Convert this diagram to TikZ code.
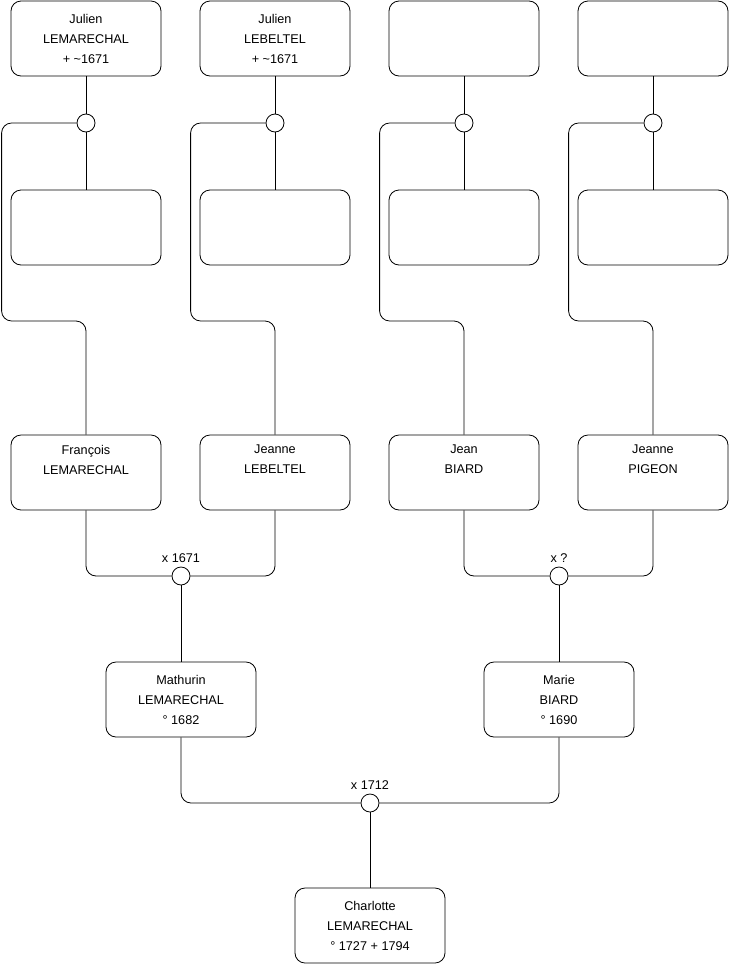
\documentclass[tikz,border=0pt]{standalone}
\usepackage{fontspec}
\setmainfont{Liberation Sans}
\usepackage{tikz}
\usetikzlibrary{positioning}

\tikzset{
  person/.style={draw,rounded corners=7.5pt,minimum width=112.5pt,minimum height=56.25pt,
    align=center,inner sep=0pt,font=\fontsize{9.5}{15}\selectfont},
  union/.style={draw,circle,fill=white,minimum size=13.5pt,inner sep=0pt},
  link/.style={line width=0.6pt,rounded corners=7.5pt},
  year/.style={font=\fontsize{9.5}{11}\selectfont,inner sep=1pt}
}

\begin{document}
\begin{tikzpicture}[x=0.75pt,y=-0.75pt,line width=0.6pt]
  \useasboundingbox (0,0) rectangle (740,975);
  % top row
  \node[person] (jlem) at (86,38.5) {Julien\\LEMARECHAL\\+ \textasciitilde1671};
  \node[person] (jleb) at (275,38.5) {Julien\\LEBELTEL\\+ \textasciitilde1671};
  \node[person] (top3) at (464,38.5) {};
  \node[person] (top4) at (653,38.5) {};
  \node[union] (u1) at (86,123) {};
  \node[union] (u2) at (275,123) {};
  \node[union] (u3) at (464,123) {};
  \node[union] (u4) at (653,123) {};
  \node[person] (mid1) at (86,227.5) {};
  \node[person] (mid2) at (275,227.5) {};
  \node[person] (mid3) at (464,227.5) {};
  \node[person] (mid4) at (653,227.5) {};
  % parents
  \node[person] (fran) at (86,472.5) {François\\LEMARECHAL\\\strut};
  \node[person] (jleb2) at (275,472.5) {Jeanne\\LEBELTEL\\\strut};
  \node[person] (jean) at (464,472.5) {Jean\\BIARD\\\strut};
  \node[person] (jpig) at (653,472.5) {Jeanne\\PIGEON\\\strut};
  \node[union] (m1) at (181,576) {};
  \node[union] (m2) at (559,576) {};
  \node[year,above=2pt of m1] {x 1671};
  \node[year,above=2pt of m2] {x ?};
  \node[person] (math) at (181,699.5) {Mathurin\\LEMARECHAL\\° 1682};
  \node[person] (marie) at (559,699.5) {Marie\\BIARD\\° 1690};
  \node[union] (m3) at (370,803) {};
  \node[year,above=2pt of m3] {x 1712};
  \node[person] (charl) at (370,925.5) {Charlotte\\LEMARECHAL\\° 1727 + 1794};

  \foreach \t/\u/\m/\c in {jlem/u1/mid1/fran,jleb/u2/mid2/jleb2,top3/u3/mid3/jean,top4/u4/mid4/jpig}{
    \draw[link] (\t.south) -- (\u.north);
    \draw[link] (\u.south) -- (\m.north);
    \draw[link] (\u.west) -- ++(-75,0) -- ++(0,198) -| (\c.north);
  }
  \draw[link] (fran.south) |- (m1.west);
  \draw[link] (jleb2.south) |- (m1.east);
  \draw[link] (jean.south) |- (m2.west);
  \draw[link] (jpig.south) |- (m2.east);
  \draw[link] (m1.south) -- (math.north);
  \draw[link] (m2.south) -- (marie.north);
  \draw[link] (math.south) |- (m3.west);
  \draw[link] (marie.south) |- (m3.east);
  \draw[link] (m3.south) -- (charl.north);
\end{tikzpicture}
\end{document}
